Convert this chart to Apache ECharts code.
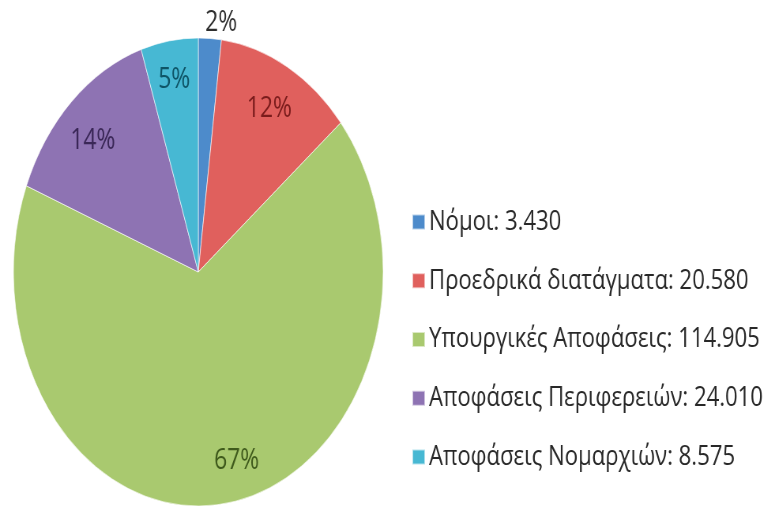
<!DOCTYPE html>
<html>
<head>
<meta charset="utf-8">
<script src="https://cdn.jsdelivr.net/npm/echarts@6/dist/echarts.min.js"></script>
<style>
  html, body { margin: 0; padding: 0; background: #fff; overflow: hidden; width: 777px; height: 511px; }
  #wrap { width: 777px; height: 511px; overflow: hidden; position: relative; }
  /* The chart is drawn wide and squeezed horizontally, giving an elliptical pie and narrow type */
  #chart { width: 984px; height: 511px; transform: scaleX(0.79); transform-origin: 0 0; }
</style>
</head>
<body>
<div id="wrap"><div id="chart"></div></div>
<script>
const categories = ['Νόμοι', 'Προεδρικά διατάγματα', 'Υπουργικές Αποφάσεις', 'Αποφάσεις Περιφερειών', 'Αποφάσεις Νομαρχιών'];
const values = [3430, 20580, 114905, 24010, 8575];
const sliceColors = ['#4d8bcb', '#e0605d', '#a9c96f', '#8e73b3', '#47b8d3'];
const labelColors = ['#2e2e2e', '#7a1c1c', '#3f5a1c', '#3a2757', '#0e5466'];
// small nudges of the percentage labels from their default spot
const labelNudge = [[-12, 0], [-4, 8], [18, -4], [0, 11], [0, 0]];

// Greek number formatting: dot as thousands separator
function fmt(n) {
  return String(n).replace(/\B(?=(\d{3})+(?!\d))/g, '.');
}

const data = categories.map((name, i) => ({
  name: name,
  value: values[i],
  itemStyle: { color: sliceColors[i] }
}));

// Label-only ring: inside labels sit near the outer part of the pie
const labelData = categories.map((name, i) => ({
  name: name,
  value: values[i],
  itemStyle: { color: 'rgba(0,0,0,0)', borderWidth: 0 },
  label: i === 0
    ? { position: 'outside', color: labelColors[i] }
    : { position: 'inside', color: labelColors[i] },
  labelLine: { show: false, length: 16, length2: 0 }
}));

const chart = echarts.init(document.getElementById('chart'));
const FONT = '"Open Sans", "Noto Sans", sans-serif';
const center = [251, 272];

chart.setOption({
  animation: false,
  backgroundColor: '#ffffff',
  legend: {
    orient: 'vertical',
    left: 516,
    top: 201,
    itemWidth: 16,
    itemHeight: 15,
    itemGap: 26.75,
    icon: 'rect',
    data: categories,
    selectedMode: false,
    formatter: function (name) {
      const i = categories.indexOf(name);
      return name + ': ' + fmt(values[i]);
    },
    textStyle: { fontFamily: FONT, fontSize: 28, lineHeight: 32, color: '#282828' }
  },
  series: [
    {
      type: 'pie',
      center: center,
      radius: 234,
      startAngle: 90,
      clockwise: true,
      silent: true,
      label: { show: false },
      labelLine: { show: false },
      itemStyle: { borderColor: 'rgba(255,255,255,0.6)', borderWidth: 1 },
      data: data
    },
    {
      type: 'pie',
      center: center,
      radius: [150, 234],
      startAngle: 90,
      clockwise: true,
      silent: true,
      avoidLabelOverlap: false,
      label: {
        show: true,
        fontFamily: FONT,
        fontSize: 29,
        formatter: function (p) { return Math.round(p.percent) + '%'; }
      },
      labelLayout: function (p) {
        const n = labelNudge[p.dataIndex];
        return { dx: n[0], dy: n[1] };
      },
      data: labelData
    }
  ]
});
</script>
</body>
</html>
